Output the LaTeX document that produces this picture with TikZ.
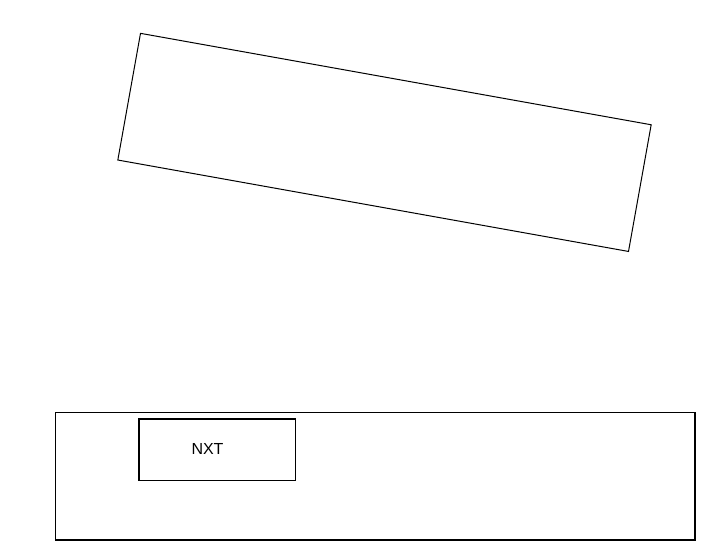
\documentclass[tikz,border=0pt]{standalone}
\usepackage{fontspec}
\setmainfont{Liberation Sans}
\begin{document}
\begin{tikzpicture}[x=1pt,y=-1pt,
  thinbox/.style={draw=black,line width=1pt,inner sep=0pt,fill=none},
  thickbox/.style={draw=black,line width=1.5pt,inner sep=0pt},
  label/.style={inner sep=0pt,font=\fontsize{16}{19}\selectfont}]
\useasboundingbox (0,0) rectangle (710,553);
\node[thinbox,minimum width=518.8pt,minimum height=128.7pt,rotate=-10.15] (tilted) at (384.5,142.4) {};
\node[thickbox,minimum width=639.3pt,minimum height=127.3pt] (outer) at (375.35,476.35) {};
\node[thickbox,minimum width=156.3pt,minimum height=61.3pt] (nxt) at (217.15,449.65) {};
\node[label] (nxtlabel) at (207.5,448.5) {NXT};
\end{tikzpicture}
\end{document}
